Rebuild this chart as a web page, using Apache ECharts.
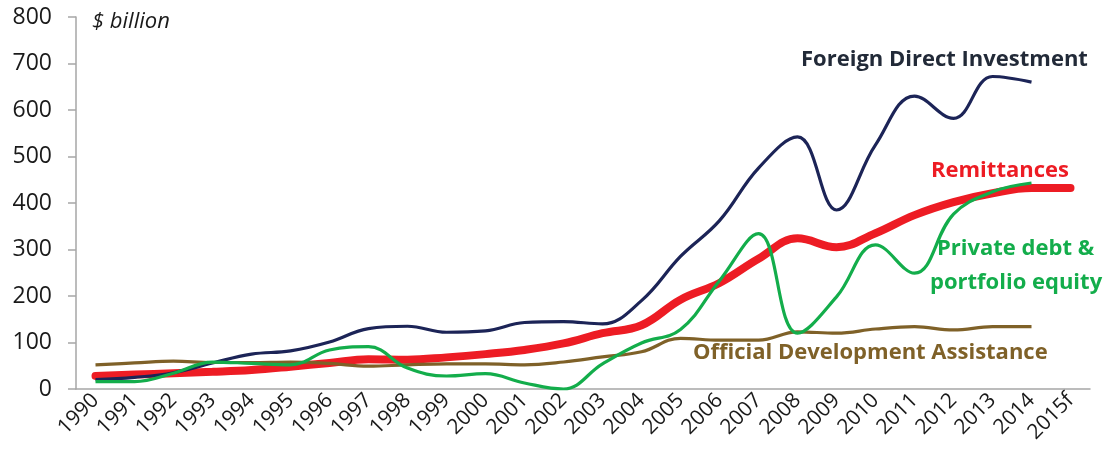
<!DOCTYPE html>
<html>
<head>
<meta charset="utf-8">
<script src="https://cdn.jsdelivr.net/npm/echarts@6/dist/echarts.min.js"></script>
<style>html,body{margin:0;padding:0;background:#fff}#c{width:1104px;height:460px}</style>
</head>
<body>
<div id="c"></div>
<script>
const years = ['1990','1991','1992','1993','1994','1995','1996','1997','1998','1999','2000','2001','2002','2003','2004','2005','2006','2007','2008','2009','2010','2011','2012','2013','2014','2015f'];
const fdi = [20,25,35,56,75,82,101,130,135,122,125,143,145,140,190,285,362,475,542,385,525,630,582,672,660,null];
const remittances = [28,31,34,37,41,48,56,64,63,68,75,84,98,120,137,192,228,280,324,305,335,374,402,421,432,432];
const privateDebt = [16,16,34,58,55,52,84,91,45,28,33,13,0,54,99,128,233,334,120,198,310,249,376,424,443,null];
const oda = [52,56,60,57,57,58,55,49,52,54,54,52,58,69,80,109,105,105,123,120,129,134,127,134,134,null];

const font = '"Open Sans", "Noto Sans", sans-serif';
const chart = echarts.init(document.getElementById('c'));
chart.setOption({
  animation: false,
  backgroundColor: '#fff',
  grid: {left: 76, right: 14, top: 17, bottom: 71, containLabel: false},
  xAxis: {
    type: 'category',
    data: years,
    boundaryGap: true,
    axisLine: {lineStyle: {color: '#a6a6a6', width: 1.5}},
    axisTick: {alignWithLabel: true, length: 7, lineStyle: {color: '#a6a6a6', width: 1.5}},
    axisLabel: {rotate: 45, interval: 0, fontSize: 21, color: '#1a1a1a', fontFamily: font, margin: 8}
  },
  yAxis: {
    type: 'value',
    min: 0, max: 800, interval: 100,
    axisLine: {show: true, lineStyle: {color: '#a6a6a6', width: 1.5}},
    axisTick: {show: true, length: 8, lineStyle: {color: '#a6a6a6', width: 1.5}},
    splitLine: {show: false},
    axisLabel: {fontSize: 23, color: '#1a1a1a', fontFamily: font, margin: 24}
  },
  series: [
    {name: 'Remittances', type: 'line', data: remittances, smooth: 0.4, symbol: 'none',
     lineStyle: {color: '#ed1c24', width: 8, cap: 'round'}, z: 2},
    {name: 'Foreign Direct Investment', type: 'line', data: fdi, smooth: 0.4, symbol: 'none',
     lineStyle: {color: '#1c2457', width: 3.2}, z: 3},
    {name: 'Official Development Assistance', type: 'line', data: oda, smooth: 0.4, symbol: 'none',
     lineStyle: {color: '#7f6128', width: 3.2}, z: 4},
    {name: 'Private debt & portfolio equity', type: 'line', data: privateDebt, smooth: 0.4, symbol: 'none',
     lineStyle: {color: '#13ad4b', width: 3.2}, z: 5}
  ],
  graphic: [
    {type: 'text', left: 92, top: 11, style: {text: '$ billion', font: 'italic 22px ' + font, fill: '#1a1a1a'}},
    {type: 'text', left: 801, top: 49, style: {text: 'Foreign Direct Investment', font: 'bold 22px ' + font, fill: '#222a38'}},
    {type: 'text', left: 931, top: 160, style: {text: 'Remittances', font: 'bold 22px ' + font, fill: '#ed1c24'}},
    {type: 'text', left: 937, top: 238, style: {text: 'Private debt &', font: 'bold 22px ' + font, fill: '#13ad4b'}},
    {type: 'text', left: 930, top: 272, style: {text: 'portfolio equity', font: 'bold 22px ' + font, fill: '#13ad4b'}},
    {type: 'text', left: 693, top: 342, style: {text: 'Official Development Assistance', font: 'bold 22px ' + font, fill: '#7f6128'}}
  ]
});
</script>
</body>
</html>
